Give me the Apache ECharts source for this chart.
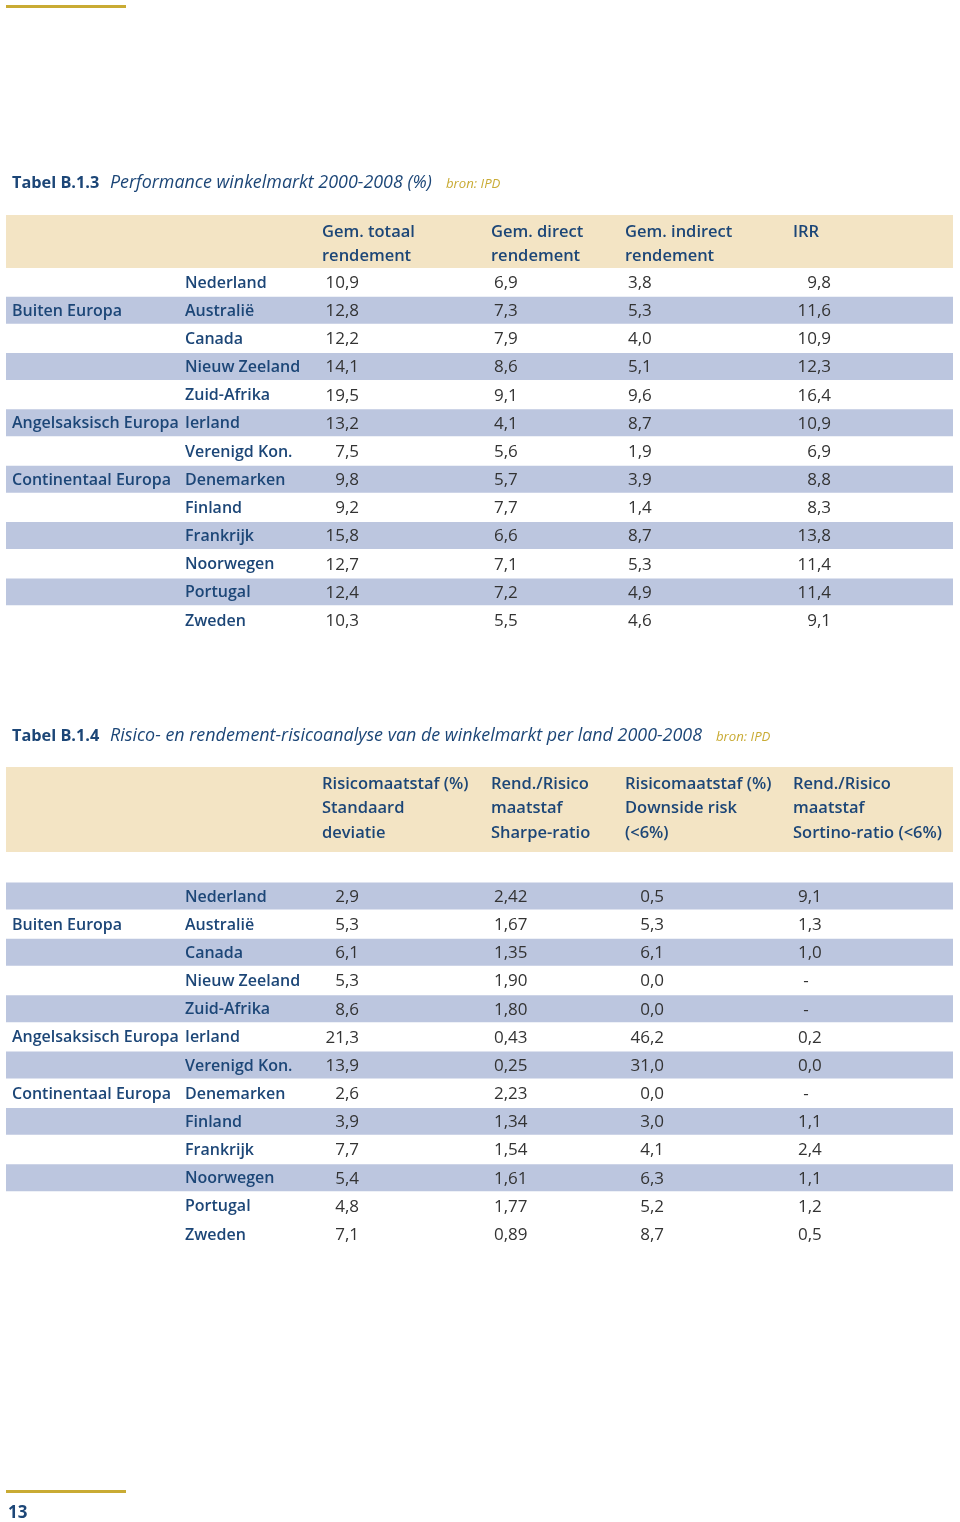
<!DOCTYPE html>
<html>
<head>
<meta charset="utf-8">
<script src="https://cdn.jsdelivr.net/npm/echarts@6/dist/echarts.min.js"></script>
<style>
html,body{margin:0;padding:0;background:#fff;}
#chart{width:960px;height:1522px;}
</style>
</head>
<body>
<div id="chart"></div>
<script>
// ---------- data ----------
const countries = ['Nederland','Australië','Canada','Nieuw Zeeland','Zuid-Afrika','Ierland','Verenigd Kon.','Denemarken','Finland','Frankrijk','Noorwegen','Portugal','Zweden'];
const groups = ['','Buiten Europa','','','','Angelsaksisch Europa','','Continentaal Europa','','','','',''];

const t1Headers = [['Gem. totaal','rendement'],['Gem. direct','rendement'],['Gem. indirect','rendement'],['IRR']];
const t1Totaal   = [10.9,12.8,12.2,14.1,19.5,13.2,7.5,9.8,9.2,15.8,12.7,12.4,10.3];
const t1Direct   = [6.9,7.3,7.9,8.6,9.1,4.1,5.6,5.7,7.7,6.6,7.1,7.2,5.5];
const t1Indirect = [3.8,5.3,4.0,5.1,9.6,8.7,1.9,3.9,1.4,8.7,5.3,4.9,4.6];
const t1IRR      = [9.8,11.6,10.9,12.3,16.4,10.9,6.9,8.8,8.3,13.8,11.4,11.4,9.1];

const t2Headers = [['Risicomaatstaf (%)','Standaard','deviatie'],['Rend./Risico','maatstaf','Sharpe-ratio'],['Risicomaatstaf (%)','Downside risk','(<6%)'],['Rend./Risico','maatstaf','Sortino-ratio (<6%)']];
const t2Std      = [2.9,5.3,6.1,5.3,8.6,21.3,13.9,2.6,3.9,7.7,5.4,4.8,7.1];
const t2Sharpe   = [2.42,1.67,1.35,1.90,1.80,0.43,0.25,2.23,1.34,1.54,1.61,1.77,0.89];
const t2Downside = [0.5,5.3,6.1,0.0,0.0,46.2,31.0,0.0,3.0,4.1,6.3,5.2,8.7];
const t2Sortino  = [9.1,1.3,1.0,null,null,0.2,0.0,null,1.1,2.4,1.1,1.2,0.5];

const title1 = ['Tabel B.1.3','Performance winkelmarkt 2000-2008 (%)','bron: IPD'];
const title2 = ['Tabel B.1.4','Risico- en rendement-risicoanalyse van de winkelmarkt per land 2000-2008','bron: IPD'];
const pageNumber = '13';

// ---------- style ----------
const BLUE_TXT = '#1c4677';
const NUM_TXT = '#333333';
const BAND = '#bcc6df';
const HEAD = '#f3e4c4';
const GOLD = '#c9ab34';
const FONT = '"Open Sans", "Noto Sans", sans-serif';
const FS_LABEL = 16;
const FS_NUM = 17;
const FS_HEAD = 16.5;
const DY = 1;

function fmt(v, d){ return v === null ? '-' : v.toFixed(d).replace('.', ','); }

// columns: [array, decimals, x, align]
const t1Cols = [[t1Totaal,1,359,'right'],[t1Direct,1,494,'left'],[t1Indirect,1,628,'left'],[t1IRR,1,831,'right']];
const t2Cols = [[t2Std,1,359,'right'],[t2Sharpe,2,494,'left'],[t2Downside,1,664,'right'],[t2Sortino,1,798,'left']];

function makeRender(cols, bandParity, bandLastRow){
  return function(params, api){
    const i = api.value(0);
    const c = api.coord([0, i]);
    const h = api.size([0, 1])[1];
    const y = c[1];
    const ty = y + DY;
    const ch = [];
    const isLast = i === countries.length - 1;
    if (i % 2 === bandParity && (bandLastRow || !isLast)) {
      ch.push({type:'rect', shape:{x:6, y:y - h/2 + 0.6, width:947, height:h - 1.2}, style:{fill:BAND}});
    }
    if (groups[i]) ch.push({type:'text', style:{x:12, y:ty, text:groups[i], fill:BLUE_TXT, fontSize:FS_LABEL, fontWeight:600, fontFamily:FONT, align:'left', verticalAlign:'middle'}});
    ch.push({type:'text', style:{x:185, y:ty, text:countries[i], fill:BLUE_TXT, fontSize:FS_LABEL, fontWeight:600, fontFamily:FONT, align:'left', verticalAlign:'middle'}});
    cols.forEach(function(col){
      const v = col[0][i];
      const txt = fmt(v, col[1]);
      let x = col[2], al = col[3];
      if (v === null) { x = col[2] + 8; al = 'center'; }
      ch.push({type:'text', style:{x:x, y:ty, text:txt, fill:NUM_TXT, fontSize:FS_NUM, fontWeight:400, fontFamily:FONT, align:al, verticalAlign:'middle'}});
    });
    return {type:'group', children:ch};
  };
}

const graphics = [];
// gold rules
graphics.push({type:'rect', shape:{x:6, y:5, width:120, height:3}, style:{fill:GOLD}});
graphics.push({type:'rect', shape:{x:6, y:1490, width:120, height:3}, style:{fill:GOLD}});
graphics.push({type:'text', style:{x:8, y:1513, text:pageNumber, fill:BLUE_TXT, fontSize:17, fontWeight:700, fontFamily:FONT, verticalAlign:'middle'}});

function addTitle(t, y, x2, x3){
  graphics.push({type:'text', style:{x:12, y:y, text:t[0], fill:BLUE_TXT, fontSize:16.3, fontWeight:700, fontFamily:FONT, verticalAlign:'middle'}});
  graphics.push({type:'text', style:{x:x2, y:y, text:t[1], fill:BLUE_TXT, fontSize:17.9, fontStyle:'italic', fontFamily:FONT, verticalAlign:'middle'}});
  graphics.push({type:'text', style:{x:x3, y:y+1, text:t[2], fill:GOLD, fontSize:13.2, fontStyle:'italic', fontFamily:FONT, verticalAlign:'middle'}});
}
addTitle(title1, 183, 110, 446);
addTitle(title2, 736, 110, 716);

function addHeader(headers, top, height, firstLine, xs){
  graphics.push({type:'rect', shape:{x:6, y:top, width:947, height:height}, style:{fill:HEAD}});
  headers.forEach(function(lines, k){
    lines.forEach(function(l, j){
      graphics.push({type:'text', style:{x:xs[k], y:firstLine + j*24.6, text:l, fill:BLUE_TXT, fontSize:FS_HEAD, fontWeight:600, fontFamily:FONT, verticalAlign:'middle'}});
    });
  });
}
addHeader(t1Headers, 215, 53, 232, [322,491,625,793]);
addHeader(t2Headers, 767, 85, 784, [322,491,625,793]);

const rowIdx = countries.map(function(_, i){ return [i]; });
const PITCH = 28.17;

const option = {
  animation:false,
  backgroundColor:'#ffffff',
  grid:[
    {left:0, width:960, top:282 - PITCH/2, height:PITCH*countries.length},
    {left:0, width:960, top:896 - PITCH/2, height:PITCH*countries.length}
  ],
  xAxis:[
    {type:'value', min:0, max:960, show:false, gridIndex:0},
    {type:'value', min:0, max:960, show:false, gridIndex:1}
  ],
  yAxis:[
    {type:'category', data:countries.map(function(_,i){return i;}), inverse:true, show:false, gridIndex:0},
    {type:'category', data:countries.map(function(_,i){return i;}), inverse:true, show:false, gridIndex:1}
  ],
  graphic:graphics,
  series:[
    {type:'custom', xAxisIndex:0, yAxisIndex:0, data:rowIdx, renderItem:makeRender(t1Cols, 1, true), encode:{y:0}, silent:true},
    {type:'custom', xAxisIndex:1, yAxisIndex:1, data:rowIdx, renderItem:makeRender(t2Cols, 0, false), encode:{y:0}, silent:true}
  ]
};
const chart = echarts.init(document.getElementById('chart'), null, {renderer:'canvas'});
chart.setOption(option);
</script>
</body>
</html>
